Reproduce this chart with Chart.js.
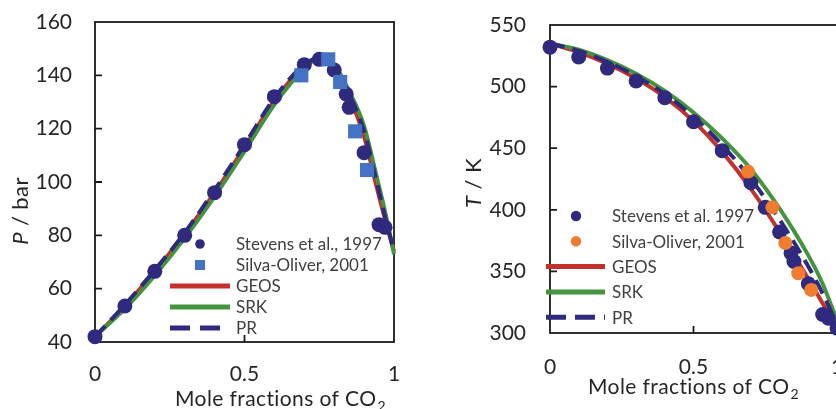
<!DOCTYPE html>
<html>
<head>
<meta charset="utf-8">
<script src="https://cdn.jsdelivr.net/npm/chart.js@4.4.0/dist/chart.umd.min.js"></script>
<style>
    html, body { margin: 0; padding: 0; background: #fff; overflow: hidden; }
    body { width: 836px; height: 409px; position: relative; }
    #pressure-wrap { position: absolute; left: 0; top: 0; }
    #temperature-wrap { position: absolute; left: 420px; top: 0; }
</style>
</head>
<body>
<div id="pressure-wrap"><canvas id="pressure-chart" width="420" height="409"></canvas></div>
<div id="temperature-wrap"><canvas id="temperature-chart" width="440" height="409"></canvas></div>
<script>
// ============================================
// Data
// ============================================

// Left panel: pressure / bar against mole fraction of CO2
const stevensPx = [0, 0.1, 0.2, 0.3, 0.4, 0.5, 0.6, 0.7, 0.75, 0.8, 0.84, 0.85, 0.9, 0.95, 0.97];
const stevensP = [42, 53.5, 66.5, 80, 96, 114, 132, 144, 146, 142, 133, 128, 111, 84, 83];
const silvaPx = [0.69, 0.78, 0.82, 0.87, 0.91];
const silvaP = [140, 146, 137.5, 119, 104.5];
const curvePx = [0, 0.1, 0.2, 0.3, 0.4, 0.5, 0.6, 0.7, 0.75, 0.8, 0.85, 0.9, 0.94, 0.97, 1];
const geosP = [42, 53.5, 66.5, 80.5, 96, 113, 130.5, 143.5, 146, 142.5, 132, 117, 99, 86, 74];
const srkP = [42, 52.5, 65, 79, 94.5, 111.5, 129, 142.5, 146.5, 144, 134, 121, 103, 89, 73];
const prP = [42, 54, 67, 81, 97, 114, 131.5, 144, 146.5, 143.5, 133, 119, 101, 87, 74];
const pressureTicks = { min: 40, max: 160, step: 20 };

// Right panel: temperature / K against mole fraction of CO2
const stevensTx = [0, 0.1, 0.2, 0.3, 0.4, 0.5, 0.6, 0.7, 0.75, 0.8, 0.84, 0.85, 0.9, 0.95, 0.97, 1];
const stevensT = [532, 524, 515, 504.5, 491, 471.5, 448, 422, 402, 382, 365, 358, 340, 315, 312, 304];
const silvaTx = [0.69, 0.775, 0.82, 0.865, 0.91];
const silvaT = [431, 402, 373, 348.5, 335];
const curveTx = [0, 0.1, 0.2, 0.3, 0.4, 0.5, 0.6, 0.7, 0.8, 0.9, 0.95, 1];
const geosT = [535, 528, 518.5, 506.5, 491.5, 472, 447, 417, 382, 344, 324, 305];
const srkT = [535, 530, 521.5, 510.5, 496.5, 479, 458, 433, 401, 363, 340, 310];
const prT = [535, 529, 520, 508.5, 494, 475.5, 452.5, 425, 392, 354, 332, 307];
const temperatureTicks = { min: 300, max: 550, step: 50 };

const fractionTicks = { min: 0, max: 1, step: 0.5 };

// Colours
const NAVY = '#2f2a7d';
const BLUE = '#4472c4';
const ORANGE = '#f07c2f';
const RED = '#c3312c';
const GREEN = '#43943c';
const FONT = 'Lato, "Open Sans", sans-serif';

// ============================================
// Helpers
// ============================================

// Zip two arrays into {x, y} points
function toPoints(xs, ys) {
    return xs.map((x, i) => ({ x: x, y: ys[i] }));
}

// Frame and inward tick marks, drawn below the data
function drawFrame(chart) {
    const { ctx, chartArea: area, scales } = chart;
    ctx.save();
    ctx.strokeStyle = '#1a1a1a';
    ctx.lineWidth = 1.8;
    ctx.strokeRect(area.left, area.top, area.right - area.left, area.bottom - area.top);
    ctx.beginPath();
    scales.y.ticks.forEach(t => {
        const py = scales.y.getPixelForValue(t.value);
        if (py > area.top + 2 && py < area.bottom - 2) {
            ctx.moveTo(area.left, py);
            ctx.lineTo(area.left + 7, py);
        }
    });
    scales.x.ticks.forEach(t => {
        const px = scales.x.getPixelForValue(t.value);
        if (px > area.left + 2 && px < area.right - 2) {
            ctx.moveTo(px, area.bottom);
            ctx.lineTo(px, area.bottom - 7);
        }
    });
    ctx.stroke();
    ctx.restore();
}

// Axis titles with italic symbol and subscript
function drawTitles(chart, cfg) {
    const ctx = chart.ctx;
    ctx.save();
    ctx.fillStyle = '#262626';
    ctx.textBaseline = 'alphabetic';
    ctx.textAlign = 'left';
    ctx.letterSpacing = '0.4px';

    // x title: "Mole fractions of CO" + subscript 2
    const main = 'Mole fractions of CO';
    ctx.font = '21px ' + FONT;
    const mainW = ctx.measureText(main).width;
    ctx.font = '14px ' + FONT;
    const subW = ctx.measureText('2').width;
    const startX = cfg.xTitleX - (mainW + subW) / 2;
    ctx.font = '21px ' + FONT;
    ctx.fillText(main, startX, cfg.xTitleY);
    ctx.font = '14px ' + FONT;
    ctx.fillText('2', startX + mainW + 1, cfg.xTitleY + 5);

    // y title: italic symbol then unit, rotated
    ctx.translate(cfg.yTitleX, cfg.yTitleY);
    ctx.rotate(-Math.PI / 2);
    ctx.font = 'italic 22px ' + FONT;
    const symW = ctx.measureText(cfg.symbol).width;
    ctx.font = '22px ' + FONT;
    const unitW = ctx.measureText(cfg.unit).width;
    const y0 = -(symW + unitW) / 2;
    ctx.font = 'italic 22px ' + FONT;
    ctx.fillText(cfg.symbol, y0, 0);
    ctx.font = '22px ' + FONT;
    ctx.fillText(cfg.unit, y0 + symW, 0);
    ctx.restore();
}

// Legend drawn inside the plot, one row per dataset
function drawLegend(chart, cfg) {
    const ctx = chart.ctx;
    ctx.save();
    chart.data.datasets.forEach((ds, i) => {
        const y = cfg.top + i * cfg.gap;
        if (ds.showLine) {
            ctx.strokeStyle = ds.borderColor;
            ctx.lineWidth = cfg.lineWidth;
            ctx.setLineDash(ds.borderDash ? cfg.dash : []);
            ctx.beginPath();
            ctx.moveTo(cfg.lineStart, y);
            ctx.lineTo(cfg.lineEnd, y);
            ctx.stroke();
            ctx.setLineDash([]);
        } else if (ds.pointStyle === 'rect') {
            ctx.fillStyle = ds.backgroundColor;
            ctx.fillRect(cfg.markerX - cfg.square / 2, y - cfg.square / 2, cfg.square, cfg.square);
        } else {
            ctx.fillStyle = ds.backgroundColor;
            ctx.beginPath();
            ctx.arc(cfg.markerX, y, cfg.dot, 0, Math.PI * 2);
            ctx.fill();
        }
        ctx.fillStyle = '#404040';
        ctx.font = cfg.fontSize + 'px ' + FONT;
        ctx.textBaseline = 'middle';
        ctx.fillText(ds.label, cfg.textX, y + 1);
    });
    ctx.restore();
}

const panelDecor = {
    id: 'panelDecor',
    beforeDatasetsDraw(chart) {
        drawFrame(chart);
    },
    afterDraw(chart, args, opts) {
        drawTitles(chart, opts.titles);
        drawLegend(chart, opts.legend);
    }
};

// ============================================
// Chart builders
// ============================================

function buildDatasets(d) {
    const common = { clip: false, pointHoverRadius: 0 };
    return [
        Object.assign({ label: d.labels[0], data: toPoints(d.stevensX, d.stevensY), pointStyle: 'circle',
            pointRadius: 7.5, backgroundColor: NAVY, borderWidth: 0, order: 2 }, common),
        Object.assign({ label: d.labels[1], data: toPoints(d.silvaX, d.silvaY), pointStyle: d.silvaStyle,
            pointRadius: d.silvaRadius, backgroundColor: d.silvaColor, borderWidth: 0, order: 1 }, common),
        Object.assign({ label: 'GEOS', data: toPoints(d.curveX, d.geos), showLine: true, pointRadius: 0,
            borderColor: RED, borderWidth: 4, cubicInterpolationMode: 'monotone', order: 6 }, common),
        Object.assign({ label: 'SRK', data: toPoints(d.curveX, d.srk), showLine: true, pointRadius: 0,
            borderColor: GREEN, borderWidth: 4, cubicInterpolationMode: 'monotone', order: 5 }, common),
        Object.assign({ label: 'PR', data: toPoints(d.curveX, d.pr), showLine: true, pointRadius: 0,
            borderColor: NAVY, borderWidth: 4, borderDash: [15, 8], cubicInterpolationMode: 'monotone', order: 4 }, common)
    ];
}

function buildChart(canvasId, d, layout) {
    const ctx = document.getElementById(canvasId).getContext('2d');
    return new Chart(ctx, {
        type: 'scatter',
        data: { datasets: buildDatasets(d) },
        options: {
            responsive: false,
            animation: false,
            events: [],
            layout: { padding: layout.padding },
            plugins: {
                legend: { display: false },
                tooltip: { enabled: false },
                panelDecor: { titles: layout.titles, legend: layout.legend }
            },
            scales: {
                x: {
                    type: 'linear',
                    min: fractionTicks.min,
                    max: fractionTicks.max,
                    grid: { display: false, drawTicks: false },
                    border: { display: false },
                    ticks: { stepSize: fractionTicks.step, padding: layout.xPad, color: '#262626',
                        font: { family: FONT, size: 21 }, callback: v => String(v) },
                    afterFit: s => {
                        s.height = layout.xHeight;
                        s.paddingLeft = 0;
                        s.paddingRight = 0;
                    }
                },
                y: {
                    type: 'linear',
                    min: d.yTicks.min,
                    max: d.yTicks.max,
                    grid: { display: false, drawTicks: false },
                    border: { display: false },
                    ticks: { stepSize: d.yTicks.step, padding: layout.yPad, color: '#262626',
                        font: { family: FONT, size: 21 } },
                    afterFit: s => {
                        s.width = layout.yWidth;
                        s.paddingTop = 0;
                        s.paddingBottom = 0;
                    }
                }
            }
        },
        plugins: [panelDecor]
    });
}

// ============================================
// Initialization
// ============================================

buildChart('pressure-chart', {
    labels: ['Stevens et al., 1997', 'Silva-Oliver, 2001'],
    stevensX: stevensPx, stevensY: stevensP,
    silvaX: silvaPx, silvaY: silvaP,
    silvaStyle: 'rect', silvaRadius: 10, silvaColor: BLUE,
    curveX: curvePx, geos: geosP, srk: srkP, pr: prP,
    yTicks: pressureTicks
}, {
    padding: { left: 0, top: 22, right: 26, bottom: 0 },
    yWidth: 95, xHeight: 67, yPad: 23, xPad: 20,
    titles: { xTitleX: 280, xTitleY: 406, yTitleX: 28, yTitleY: 211, symbol: 'P', unit: ' / bar' },
    legend: { top: 244, gap: 21, markerX: 200, lineStart: 170, lineEnd: 230, textX: 236,
        dot: 4.8, square: 10, lineWidth: 5, dash: [20, 10], fontSize: 17 }
});

buildChart('temperature-chart', {
    labels: ['Stevens et al. 1997', 'Silva-Oliver, 2001'],
    stevensX: stevensTx, stevensY: stevensT,
    silvaX: silvaTx, silvaY: silvaT,
    silvaStyle: 'circle', silvaRadius: 7, silvaColor: ORANGE,
    curveX: curveTx, geos: geosT, srk: srkT, pr: prT,
    yTicks: temperatureTicks
}, {
    padding: { left: 0, top: 25, right: 23, bottom: 0 },
    yWidth: 130, xHeight: 76, yPad: 24, xPad: 22,
    titles: { xTitleX: 273, xTitleY: 394, yTitleX: 61, yTitleY: 183, symbol: 'T', unit: ' / K' },
    legend: { top: 216, gap: 25.3, markerX: 156, lineStart: 126, lineEnd: 185, textX: 192,
        dot: 5.2, square: 10, lineWidth: 5, dash: [20, 9], fontSize: 17 }
});
</script>
</body>
</html>
